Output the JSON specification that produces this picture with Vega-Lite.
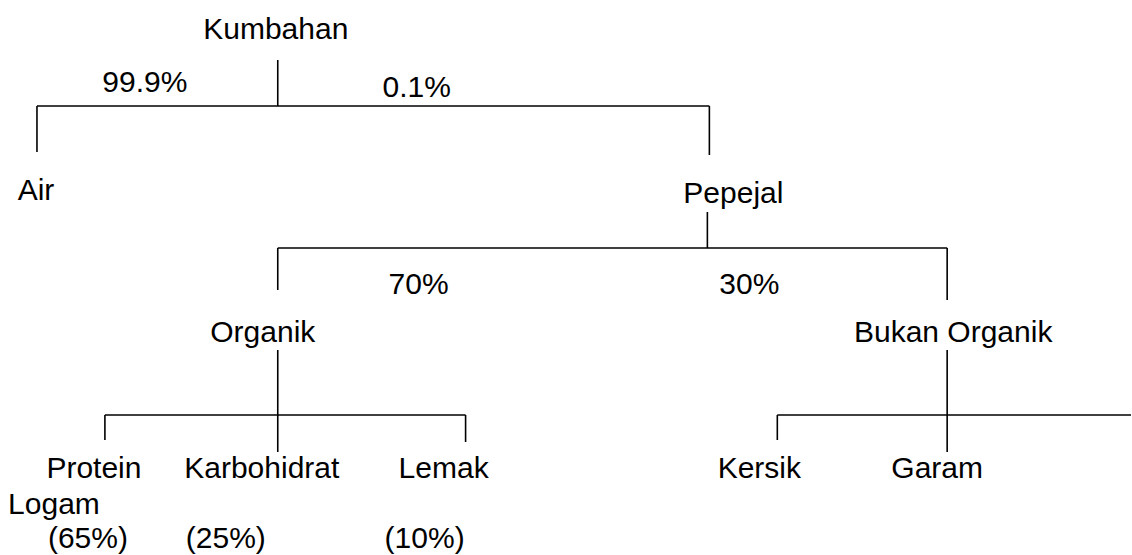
{
  "$schema": "https://vega.github.io/schema/vega-lite/v6.json",
  "width": 1132,
  "height": 555,
  "autosize": {"type": "fit", "contains": "padding"},
  "padding": 0,
  "background": "white",
  "config": {"view": {"stroke": null}},
  "datasets": {
    "links": [
      {"x": 278, "y": 60, "x2": 278, "y2": 106},
      {"x": 37, "y": 106, "x2": 710, "y2": 106},
      {"x": 37, "y": 106, "x2": 37, "y2": 152},
      {"x": 710, "y": 106, "x2": 710, "y2": 155},
      {"x": 708, "y": 212, "x2": 708, "y2": 248},
      {"x": 278, "y": 248, "x2": 948, "y2": 248},
      {"x": 278, "y": 248, "x2": 278, "y2": 290},
      {"x": 948, "y": 248, "x2": 948, "y2": 300},
      {"x": 278, "y": 350, "x2": 278, "y2": 415},
      {"x": 105, "y": 415, "x2": 466, "y2": 415},
      {"x": 105, "y": 415, "x2": 105, "y2": 440},
      {"x": 278, "y": 415, "x2": 278, "y2": 452},
      {"x": 466, "y": 415, "x2": 466, "y2": 442},
      {"x": 948, "y": 350, "x2": 948, "y2": 415},
      {"x": 778, "y": 415, "x2": 1132, "y2": 415},
      {"x": 778, "y": 415, "x2": 778, "y2": 440},
      {"x": 948, "y": 415, "x2": 948, "y2": 452}
    ],
    "labels": [
      {"x": 276, "y": 39, "label": "Kumbahan"},
      {"x": 145, "y": 92, "label": "99.9%"},
      {"x": 417, "y": 97, "label": "0.1%"},
      {"x": 36, "y": 200, "label": "Air"},
      {"x": 734, "y": 203, "label": "Pepejal"},
      {"x": 419, "y": 294, "label": "70%"},
      {"x": 750, "y": 294, "label": "30%"},
      {"x": 263, "y": 342, "label": "Organik"},
      {"x": 954, "y": 342, "label": "Bukan Organik"},
      {"x": 94, "y": 478, "label": "Protein"},
      {"x": 262, "y": 478, "label": "Karbohidrat"},
      {"x": 444, "y": 478, "label": "Lemak"},
      {"x": 760, "y": 478, "label": "Kersik"},
      {"x": 938, "y": 478, "label": "Garam"},
      {"x": 54, "y": 514, "label": "Logam"},
      {"x": 88, "y": 548, "label": "(65%)"},
      {"x": 226, "y": 548, "label": "(25%)"},
      {"x": 425, "y": 548, "label": "(10%)"}
    ]
  },
  "layer": [
    {
      "data": {"name": "links"},
      "mark": {"type": "rule", "color": "black", "strokeWidth": 1.6},
      "encoding": {
        "x": {"field": "x", "type": "quantitative", "scale": {"domain": [0, 1132], "nice": false, "zero": false}, "axis": null},
        "y": {"field": "y", "type": "quantitative", "scale": {"domain": [0, 555], "nice": false, "zero": false, "reverse": true}, "axis": null},
        "x2": {"field": "x2"},
        "y2": {"field": "y2"}
      }
    },
    {
      "data": {"name": "labels"},
      "mark": {"type": "text", "font": "Liberation Sans", "fontSize": 30, "color": "black", "align": "center", "baseline": "alphabetic"},
      "encoding": {
        "x": {"field": "x", "type": "quantitative", "scale": {"domain": [0, 1132], "nice": false, "zero": false}, "axis": null},
        "y": {"field": "y", "type": "quantitative", "scale": {"domain": [0, 555], "nice": false, "zero": false, "reverse": true}, "axis": null},
        "text": {"field": "label"}
      }
    }
  ]
}
